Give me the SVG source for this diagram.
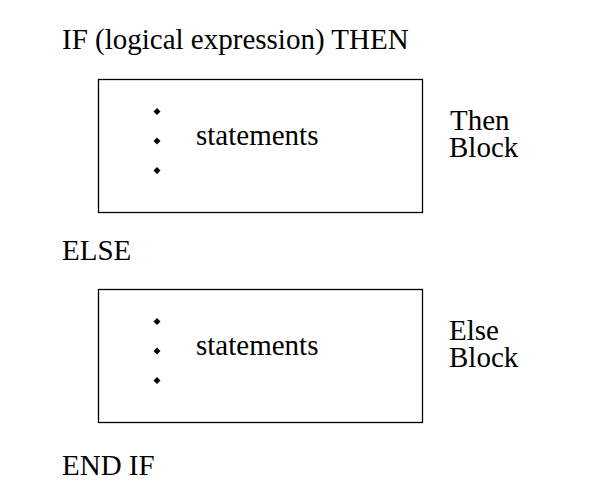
<svg xmlns="http://www.w3.org/2000/svg" width="600" height="500" viewBox="0 0 600 500">
<style>
text{font-family:"Liberation Serif","Times New Roman",serif;font-size:29px;fill:#000}
.box{fill:#fff;stroke:#000;stroke-width:1.3}
</style>
<defs>
<path id="d" d="M0,-3.5 L3.5,0 L0,3.5 L-3.5,0 Z" fill="#000"/>
</defs>
<rect width="600" height="500" fill="#fff"/>
<g id="if-line"><text x="62" y="49">IF (logical expression) THEN</text></g>
<g id="then-block">
<rect class="box" x="98.5" y="79.5" width="324" height="133"/>
<use href="#d" x="157" y="111.5"/>
<use href="#d" x="157" y="141"/>
<use href="#d" x="157" y="170.5"/>
<text x="196" y="145">statements</text>
</g>
<g id="then-label"><text x="450" y="130">Then</text><text x="449" y="157">Block</text></g>
<g id="else-line"><text x="62" y="260">ELSE</text></g>
<g id="else-block">
<rect class="box" x="98.5" y="289.5" width="324" height="133"/>
<use href="#d" x="157" y="321.5"/>
<use href="#d" x="157" y="351"/>
<use href="#d" x="157" y="380.5"/>
<text x="196" y="355">statements</text>
</g>
<g id="else-label"><text x="449" y="340">Else</text><text x="449" y="367">Block</text></g>
<g id="end-line"><text x="62" y="475">END IF</text></g>
<g id="connectors"/>
</svg>
